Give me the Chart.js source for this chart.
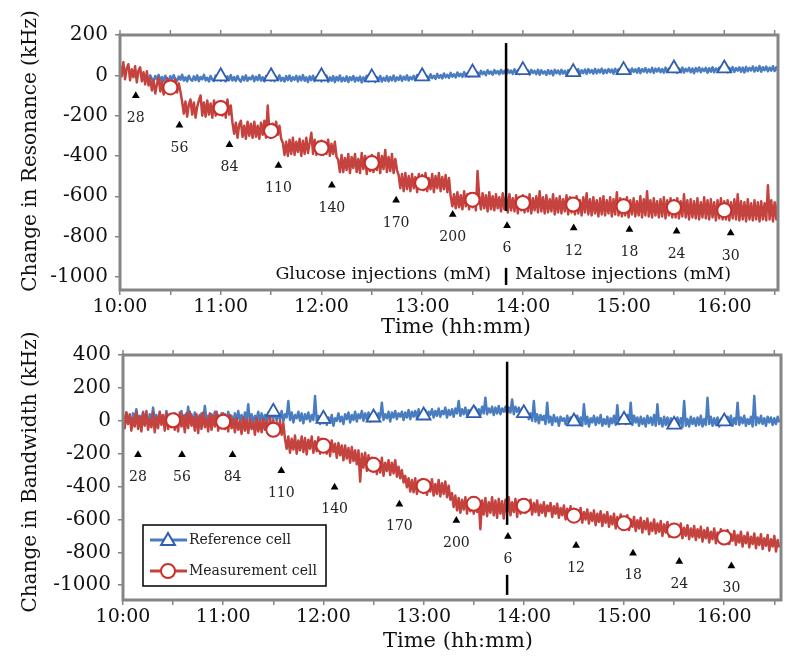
<!DOCTYPE html>
<html><head><meta charset="utf-8">
<script src="https://cdn.jsdelivr.net/npm/chart.js@4.4.1/dist/chart.umd.min.js"></script>
<style>
html,body{margin:0;padding:0;background:#fff;width:800px;height:668px;overflow:hidden;}
#c1{position:absolute;left:0;top:0;}
#c2{position:absolute;left:0;top:323px;}
</style></head><body>
<canvas id="c1" width="800" height="345"></canvas>
<canvas id="c2" width="800" height="345"></canvas>
<script>
const FONT = '"DejaVu Serif", "Liberation Serif", serif';
const sampleStep = 1; // minutes between samples, starting at 10:00

// Change in Resonance (kHz) — measurement cell (one reading per minute)
const resMeas = [
 50,-5,65,-20,35,55,-25,30,-10,45,
 -35,25,40,-30,15,-45,20,-50,-15,-75,
 -25,-90,-45,-10,-80,-30,-95,-50,-15,-80,
 -35,-90,-55,-20,-85,-40,-80,-130,-190,-130,
 -205,-145,-120,-195,-135,-210,-155,-125,-100,-200,
 -135,-205,-125,-195,-140,-210,-125,-200,-145,-190,
 -130,-200,-140,-210,-120,-195,-150,-235,-290,-235,
 -310,-245,-225,-305,-250,-315,-230,-300,-240,-310,
 -230,-305,-250,-315,-235,-295,-225,-310,-150,-280,
 -310,-240,-300,-230,-295,-250,-315,-335,-395,-330,
 -400,-320,-390,-310,-395,-330,-380,-315,-400,-325,
 -390,-310,-385,-335,-285,-390,-320,-395,-330,-385,
 -325,-395,-335,-390,-320,-400,-340,-390,-330,-405,
 -420,-480,-395,-480,-410,-470,-390,-485,-405,-460,
 -390,-480,-415,-485,-385,-465,-400,-490,-410,-475,
 -395,-480,-410,-470,-385,-485,-400,-465,-370,-480,
 -405,-475,-390,-485,-415,-470,-495,-560,-490,-575,
 -485,-565,-500,-575,-490,-560,-505,-580,-490,-555,
 -495,-570,-485,-575,-510,-565,-490,-580,-500,-560,
 -485,-575,-505,-565,-495,-580,-510,-600,-650,-590,
 -660,-580,-655,-595,-665,-575,-650,-590,-665,-585,
 -655,-590,-670,-475,-600,-665,-585,-660,-595,-675,
 -580,-665,-600,-670,-590,-660,-605,-675,-585,-665,
 -600,-680,-590,-670,-610,-675,-595,-685,-605,-670,
 -595,-680,-605,-675,-590,-685,-610,-670,-600,-680,
 -575,-675,-605,-685,-595,-680,-615,-675,-590,-690,
 -610,-680,-600,-685,-615,-675,-595,-690,-605,-680,
 -610,-690,-600,-685,-620,-695,-605,-680,-585,-690,
 -615,-695,-605,-685,-620,-700,-610,-690,-600,-695,
 -620,-685,-605,-700,-615,-690,-580,-695,-610,-700,
 -615,-695,-605,-705,-620,-690,-610,-700,-625,-695,
 -600,-705,-615,-695,-575,-700,-620,-705,-610,-695,
 -625,-705,-615,-700,-605,-710,-620,-695,-610,-705,
 -620,-705,-610,-710,-625,-700,-590,-705,-620,-715,
 -615,-705,-625,-710,-610,-715,-630,-705,-605,-710,
 -620,-715,-615,-705,-630,-720,-620,-710,-610,-715,
 -625,-715,-620,-720,-630,-710,-615,-715,-590,-720,
 -625,-715,-630,-725,-615,-715,-635,-720,-620,-715,
 -630,-725,-625,-715,-635,-720,-545,-715,-620,-725,
 -630,-715,-625,-720
];
// Change in Resonance (kHz) — reference cell
const resRef = [
 null,null,null,null,null,null,null,null,null,null,
 null,null,null,null,null,null,-5,-22,0,-18,
 -28,-3,-20,2,-25,-8,-30,-2,-18,-26,
 -4,-24,1,-20,-28,-6,-22,3,-26,-10,
 -30,-2,-20,-27,-5,-24,0,-29,-8,-20,
 2,-25,-12,-30,-3,-22,-28,-1,-24,-6,
 -27,-2,-21,-30,-5,-24,1,-26,-9,-28,
 -3,-22,-31,-6,-25,0,-27,-11,-20,-2,
 -29,-7,-24,2,-26,-10,-30,-4,-22,-1,
 -26,-5,-29,-8,-23,0,-27,-12,-31,-4,
 -24,-1,-28,-9,-22,-3,-30,-6,-25,1,
 -27,-10,-33,-5,-24,-2,-29,-8,-26,-4,
 -30,-7,-25,-2,-32,-10,-27,-4,-34,-8,
 -26,-1,-30,-12,-28,-5,-33,-9,-24,-3,
 -31,-11,-27,-6,-35,-10,-25,-2,-30,-8,
 -28,-6,-33,-9,-24,-3,-31,-12,-27,-4,
 -30,-8,-25,-1,-29,-10,-23,-2,-27,-7,
 -22,0,-26,-9,-20,-3,-24,1,-19,-6,
 -22,2,-17,-5,-20,5,-14,-2,-18,7,
 -12,1,-15,9,-10,3,-13,12,-7,5,
 -10,14,-4,8,-8,16,-2,10,-5,18,
 0,20,4,15,-2,22,6,18,1,25,
 8,19,3,26,10,21,5,27,9,22,
 4,28,12,24,7,30,11,25,6,27,
 10,29,8,24,4,27,12,22,6,28,
 3,25,9,20,2,26,7,23,0,27,
 10,24,5,28,8,22,3,26,11,24,
 6,27,9,30,4,25,11,29,7,31,
 13,26,8,32,10,28,14,33,9,27,
 12,31,15,29,8,33,13,30,16,34,
 12,32,15,29,10,34,17,30,13,35,
 11,31,18,36,14,30,16,37,12,33,
 19,35,15,31,13,38,17,34,20,36,
 16,35,12,33,18,38,14,32,20,37,
 15,34,11,36,19,39,16,33,21,37,
 13,35,18,40,15,34,22,38,17,36,
 19,39,15,37,21,41,17,36,23,40,
 18,38,14,42,20,37,24,44,19,39,
 22,46,18,40,25,43,20,38,23,45,
 21,40,24,42
];
// Change in Bandwidth (kHz) — measurement cell
const bwMeas = [
 30,-45,50,-20,40,-60,15,-35,55,-50,
 25,-65,45,-30,60,-55,10,-40,50,-70,
 20,-45,55,-25,35,-60,45,-50,15,-40,
 40,-55,25,-65,50,-35,30,-70,45,-45,
 55,-30,20,-60,40,-75,35,-50,50,-40,
 15,-65,45,-55,30,-35,55,-60,25,-45,
 45,-50,20,-65,35,-45,10,-70,15,-55,
 -5,-80,20,-60,5,-75,10,-50,-10,-85,
 15,-65,0,-70,10,-55,-5,-80,20,-60,
 5,-75,-10,-60,0,-85,-15,-110,-170,-95,
 -195,-110,-175,-90,-200,-120,-180,-95,-190,-105,
 -205,-115,-170,-95,-195,-125,-185,-100,-200,-110,
 -180,-115,-200,-130,-215,-120,-190,-140,-225,-135,
 -210,-150,-240,-150,-230,-165,-255,-160,-245,-180,
 -265,-180,-370,-200,-285,-195,-305,-210,-290,-225,
 -310,-235,-325,-245,-315,-225,-335,-255,-305,-240,
 -330,-255,-320,-240,-340,-280,-350,-300,-375,-335,
 -405,-350,-430,-360,-435,-350,-445,-365,-425,-355,
 -440,-365,-450,-375,-430,-355,-455,-385,-445,-360,
 -460,-380,-445,-370,-465,-395,-480,-440,-525,-455,
 -545,-470,-560,-480,-540,-465,-565,-485,-550,-470,
 -565,-480,-555,-490,-660,-485,-570,-470,-580,-495,
 -560,-465,-575,-485,-590,-475,-565,-490,-595,-480,
 -560,-465,-575,-495,-555,-475,-585,-485,-565,-480,
 -490,-560,-505,-545,-480,-570,-500,-555,-485,-575,
 -510,-560,-495,-580,-515,-550,-500,-585,-520,-565,
 -505,-590,-530,-575,-515,-600,-535,-580,-520,-605,
 -535,-610,-545,-595,-530,-620,-555,-600,-540,-625,
 -560,-610,-545,-635,-565,-615,-550,-640,-570,-620,
 -555,-645,-580,-630,-565,-655,-585,-640,-570,-660,
 -590,-650,-575,-665,-600,-645,-585,-670,-605,-655,
 -590,-680,-610,-660,-595,-690,-620,-670,-600,-685,
 -625,-675,-610,-700,-630,-680,-615,-705,-640,-690,
 -630,-705,-645,-690,-625,-715,-650,-700,-635,-720,
 -655,-705,-640,-725,-660,-710,-645,-735,-665,-715,
 -650,-740,-675,-720,-655,-745,-680,-725,-660,-750,
 -685,-735,-665,-750,-690,-730,-670,-755,-695,-740,
 -675,-765,-700,-745,-680,-770,-705,-750,-685,-775,
 -710,-755,-690,-780,-715,-760,-695,-790,-720,-765,
 -700,-795,-725,-770
];
// Change in Bandwidth (kHz) — reference cell
const bwRef = [
 35,-10,50,0,25,-20,45,10,70,-5,
 30,-15,55,5,20,-25,40,-5,80,10,
 35,-20,50,0,25,-10,60,-15,40,5,
 -5,45,-20,30,10,60,-10,35,-15,85,
 0,40,-20,50,5,25,-15,45,-10,90,
 5,30,-25,40,0,55,-10,35,-20,45,
 0,40,-15,55,10,30,-20,45,-5,60,
 0,35,-25,50,5,100,-10,40,-15,30,
 10,55,-20,45,0,35,-10,50,5,60,
 15,55,0,45,10,60,-5,40,20,120,
 5,50,-10,35,15,55,0,45,-15,40,
 10,50,-5,35,5,150,0,30,-20,25,
 -15,30,-25,20,-10,35,-30,15,0,45,
 -5,25,-20,40,10,50,-10,35,5,55,
 -5,40,15,60,0,45,10,50,-5,40,
 10,50,0,45,20,110,5,40,15,55,
 -5,50,20,60,10,45,25,55,5,50,
 20,65,10,55,25,60,15,70,20,55,
 30,65,15,55,35,70,20,60,30,75,
 25,60,40,80,20,65,35,70,25,75,
 45,120,30,70,40,80,35,65,45,75,
 30,80,40,70,35,85,45,140,40,75,
 50,85,35,80,45,90,40,75,55,85,
 45,80,50,130,40,85,55,80,45,75,
 60,25,55,10,45,0,120,-5,40,-15,
 35,5,30,-20,110,-10,25,-25,35,-5,
 20,-30,25,0,15,-20,30,-10,20,-25,
 15,-25,30,-15,20,-30,100,-20,25,-35,
 15,-10,30,-25,20,-15,35,-30,10,-20,
 25,-35,15,-15,30,-25,95,-20,20,-10,
 25,-20,35,-15,110,-25,30,-10,20,-30,
 25,-20,15,-35,30,-15,20,-25,35,-30,
 100,-20,15,-35,25,-25,20,-40,15,-30,
 10,-35,20,-25,15,-40,120,-30,10,-35,
 25,-20,15,-30,20,-25,30,-35,10,-25,
 140,-20,25,-30,15,-25,20,-35,10,-20,
 20,-25,25,-15,30,-30,15,-20,110,-25,
 20,-15,30,-30,10,-20,25,-35,150,-25,
 20,-15,30,-20,15,-30,25,-10,20,-25,
 15,-20,25,-10
];

// Sparse series markers (minutes after 10:00)
const measMarkTimes = [30,60,90,120,150,180,210,240,270,300,330,360];
const resMeasMarks = [-60,-162,-276,-360,-435,-534,-617,-633,-641,-650,-654,-669];
const bwMeasMarks  = [3,-6,-55,-152,-268,-396,-505,-517,-577,-623,-668,-710];
const resRefMarkTimes = [60,90,120,150,180,210,240,270,300,330,360];
const resRefMarks = [-5,-5,-5,-10,-5,14,26,16,26,34,34];
const bwRefMarkTimes = [90,120,150,180,210,240,270,300,330,360];
const bwRefMarks = [55,12,20,32,46,46,-4,6,-24,-4];

// Injection annotations (mM)
const injLabels = ['28','56','84','110','140','170','200','6','12','18','24','30'];
const injTimesRes = [9.4,35.4,65.2,94.4,126.2,164.5,198.2,230.6,270.3,303.5,331.6,363.8];
const injValsRes  = [-101,-248,-344,-448,-545,-620,-691,-746,-757,-765,-773,-782];
const injTimesBw  = [9,35.3,65.6,94.8,126.7,165.5,199.6,230.5,271.3,305.4,333.1,364.3];
const injValsBw   = [-207,-207,-207,-304,-404,-507,-607,-704,-759,-805,-856,-883];

const switchTime = 230; // glucose -> maltose
const xTicks = [0,30,60,90,120,150,180,210,240,270,300,330,360,390];
const yTicksRes = [-1000,-800,-600,-400,-200,0,200];
const yTicksBw = [-1000,-800,-600,-400,-200,0,200,400];

const BLUE = '#4A7DC0', RED = '#C4433F', TRI = '#2F5DAF', CIRC = '#C9302C';

function pts(times, vals) { return vals.map((v, i) => ({x: times[i], y: v})); }
function series(vals) { return vals.map((v, i) => ({x: i * sampleStep, y: v})); }
function fmtTime(v) { return (10 + v / 60) + ':00'; }

function drawLegend(ctx, a) {
  const bx = a.left + 20, by = a.bottom - 75, bw = 183, bh = 61;
  ctx.fillStyle = '#fff'; ctx.fillRect(bx, by, bw, bh);
  ctx.strokeStyle = '#000'; ctx.lineWidth = 1.5; ctx.strokeRect(bx, by, bw, bh);
  const rows = [
    {y: by + 15, color: BLUE, style: 'triangle', r: 8, bc: TRI, text: 'Reference cell'},
    {y: by + 46, color: RED, style: 'circle', r: 7, bc: CIRC, text: 'Measurement cell'}
  ];
  rows.forEach(r => {
    ctx.strokeStyle = r.color; ctx.lineWidth = 3;
    ctx.beginPath(); ctx.moveTo(bx + 7, r.y); ctx.lineTo(bx + 44, r.y); ctx.stroke();
    ctx.fillStyle = '#fff'; ctx.strokeStyle = r.bc; ctx.lineWidth = 2;
    Chart.helpers.drawPoint(ctx, {pointStyle: r.style, radius: r.r, borderWidth: 2, rotation: 0}, bx + 25, r.y + (r.style === 'triangle' ? 1 : 0));
    ctx.fillStyle = '#222'; ctx.font = '14px ' + FONT; ctx.textAlign = 'left'; ctx.textBaseline = 'middle';
    ctx.fillText(r.text, bx + 46, r.y);
  });
}

function overlay(o) {
  return {
    id: 'overlay',
    afterDatasetsDraw(chart) {
      const {ctx, chartArea: a} = chart;
      const x = chart.scales.x, y = chart.scales.y;
      ctx.save();
      const lx = x.getPixelForValue(switchTime);
      ctx.strokeStyle = '#000'; ctx.lineWidth = 2.5;
      o.vSegs.forEach(s => {
        ctx.beginPath(); ctx.moveTo(lx, y.getPixelForValue(s[0])); ctx.lineTo(lx, y.getPixelForValue(s[1])); ctx.stroke();
      });
      const meta = chart.getDatasetMeta(0);
      ctx.fillStyle = '#222'; ctx.font = '14px ' + FONT; ctx.textAlign = 'center'; ctx.textBaseline = 'middle';
      meta.data.forEach((p, i) => ctx.fillText(injLabels[i], p.x, p.y + o.labelGap));
      if (o.regionY !== undefined) {
        ctx.font = '17.5px ' + FONT; ctx.fillStyle = '#111';
        const ry = y.getPixelForValue(o.regionY);
        ctx.textAlign = 'right'; ctx.fillText('Glucose injections (mM)', lx - 15, ry);
        ctx.textAlign = 'left'; ctx.fillText('Maltose injections (mM)', lx + 9, ry);
      }
      ctx.strokeStyle = '#858585'; ctx.lineWidth = 3;
      ctx.strokeRect(a.left, a.top, a.right - a.left, a.bottom - a.top);
      ctx.lineWidth = 1.5;
      xTicks.forEach(v => {
        const px = x.getPixelForValue(v);
        ctx.beginPath(); ctx.moveTo(px, a.top - 5); ctx.lineTo(px, a.top); ctx.stroke();
      });
      if (o.legend) drawLegend(ctx, a);
      ctx.restore();
    },
    afterDraw(chart) {
      const ctx = chart.ctx;
      ctx.save();
      ctx.fillStyle = '#111'; ctx.font = '21px ' + FONT; ctx.textAlign = 'center'; ctx.textBaseline = 'middle';
      ctx.fillText('Time (hh:mm)', o.xTitlePos[0], o.xTitlePos[1]);
      ctx.font = '20px ' + FONT;
      ctx.translate(o.yTitlePos[0], o.yTitlePos[1]); ctx.rotate(-Math.PI / 2);
      ctx.fillText(o.yTitle, 0, 0);
      ctx.restore();
    }
  };
}

function makeChart(id, o) {
  const gridOpts = {display: true, drawOnChartArea: false, drawTicks: true, tickLength: 5, color: '#858585', lineWidth: 1.5};
  return new Chart(document.getElementById(id), {
    type: 'line',
    data: {datasets: [
      {data: pts(o.injTimes, o.injVals), showLine: false, pointStyle: 'triangle', pointRadius: 4.5,
       pointBackgroundColor: '#000', pointBorderColor: '#000', pointBorderWidth: 0, order: 0},
      {data: pts(measMarkTimes, o.measMarks), showLine: false, pointStyle: 'circle', pointRadius: 7,
       pointBackgroundColor: '#fff', pointBorderColor: CIRC, pointBorderWidth: 2, order: 1},
      {data: pts(o.refMarkTimes, o.refMarks), showLine: false, pointStyle: 'triangle', pointRadius: 8,
       pointBackgroundColor: '#fff', pointBorderColor: TRI, pointBorderWidth: 1.8, order: 2},
      {data: series(o.meas), borderColor: RED, borderWidth: 2.5, borderJoinStyle: 'round', pointRadius: 0, tension: 0, spanGaps: false, order: 3},
      {data: series(o.ref), borderColor: BLUE, borderWidth: 2.5, borderJoinStyle: 'round', pointRadius: 0, tension: 0, spanGaps: false, order: 4}
    ]},
    options: {
      responsive: false, animation: false, devicePixelRatio: 1,
      layout: {padding: {top: o.padTop, right: o.padRight, left: 0, bottom: 0}},
      plugins: {legend: {display: false}, tooltip: {enabled: false}},
      events: [],
      scales: {
        x: {type: 'linear', position: 'bottom', min: 0, max: o.xMax,
            afterBuildTicks: s => { s.ticks = xTicks.map(v => ({value: v})); },
            afterFit: s => { s.height = o.xAxisHeight; },
            grid: gridOpts, border: {display: false},
            ticks: {autoSkip: false, maxRotation: 0, padding: 1, color: '#111', font: {family: FONT, size: 19},
                    callback: v => (v % 60 === 0 ? fmtTime(v) : '')}},
        y: {type: 'linear', min: o.yMin, max: o.yMax,
            afterBuildTicks: s => { s.ticks = o.yTicks.map(v => ({value: v})); },
            afterFit: s => { s.width = o.yAxisWidth; },
            grid: gridOpts, border: {display: false},
            ticks: {padding: 7, color: '#111', font: {family: FONT, size: 20}, callback: v => String(v)}}
      }
    },
    plugins: [overlay(o)]
  });
}

makeChart('c1', {
  meas: resMeas, ref: resRef, measMarks: resMeasMarks, refMarkTimes: resRefMarkTimes, refMarks: resRefMarks,
  injTimes: injTimesRes, injVals: injValsRes, labelGap: 23,
  vSegs: [[160, -673], [-955, -1040]], regionY: -990,
  yMin: -1065, yMax: 200, yTicks: yTicksRes, xMax: 392,
  padTop: 35, padRight: 22, yAxisWidth: 120, xAxisHeight: 55,
  yTitle: 'Change in Resonance (kHz)', yTitlePos: [31, 151], xTitlePos: [456, 328], legend: false
});
makeChart('c2', {
  meas: bwMeas, ref: bwRef, measMarks: bwMeasMarks, refMarkTimes: bwRefMarkTimes, refMarks: bwRefMarks,
  injTimes: injTimesBw, injVals: injValsBw, labelGap: 22.5,
  vSegs: [[359, -633], [-937, -1059]],
  yMin: -1090, yMax: 400, yTicks: yTicksBw, xMax: 394,
  padTop: 32, padRight: 19, yAxisWidth: 123, xAxisHeight: 68,
  yTitle: 'Change in Bandwidth (kHz)', yTitlePos: [31, 149], xTitlePos: [458, 319], legend: true
});
</script>
</body></html>
